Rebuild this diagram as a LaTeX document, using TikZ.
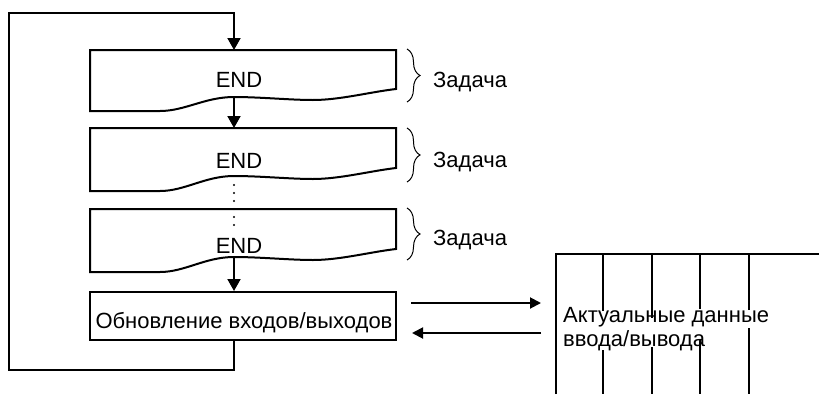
\documentclass[tikz,border=0pt]{standalone}
\usepackage{fontspec}
\setmainfont{Liberation Sans}
\usetikzlibrary{arrows.meta,decorations.pathreplacing}
\begin{document}
\begin{tikzpicture}[x=1pt,y=-1pt,
  box/.style={line width=2pt, line join=miter},
  lbl/.style={font=\fontsize{22}{26}\selectfont, inner sep=0pt},
  conn/.style={line width=1.9pt},
  arr/.style={conn,-{Triangle[length=12pt,width=13pt]}},
  harr/.style={conn,-{Triangle[length=11pt,width=11pt]}},
  brc/.style={line width=1pt, decorate, decoration={brace,amplitude=13pt}},
  gridln/.style={line width=1.9pt},
  dots/.style={line width=2.2pt, line cap=round, dash pattern=on 0pt off 8pt}
]
\useasboundingbox (0,0) rectangle (819,394);

% task box 1
\draw[box] (90,111) -- (90,50) -- (396,50) -- (396,89)
  .. controls (370,92) and (340,100) .. (313,100)
  .. controls (290,100) and (260,97) .. (234,97)
  .. controls (205,97) and (185,111) .. (160,111) -- cycle;
\coordinate (t1) at (234,50);
\coordinate (w1) at (234,97);
\node[lbl, anchor=base] (e1) at (239,87) {END};

% task box 2
\draw[box] (90,191) -- (90,128) -- (396,128) -- (396,168)
  .. controls (370,171) and (340,179) .. (313,179)
  .. controls (290,179) and (260,176) .. (234,176)
  .. controls (205,176) and (185,191) .. (160,191) -- cycle;
\coordinate (t2) at (234,128);
\coordinate (w2) at (234,176);
\node[lbl, anchor=base] (e2) at (239,168) {END};

% task box 3
\draw[box] (90,272) -- (90,209) -- (396,209) -- (396,249)
  .. controls (370,252) and (340,260) .. (313,260)
  .. controls (290,260) and (260,257) .. (234,257)
  .. controls (205,257) and (185,272) .. (160,272) -- cycle;
\coordinate (t3) at (234,209);
\coordinate (w3) at (234,257);
\node[lbl, anchor=base] (e3) at (239,253) {END};

% I/O update box
\node[box, draw, minimum width=306pt, minimum height=48pt, inner sep=0pt] (b4) at (243,316) {};
\node[lbl, anchor=base] (u4) at (244,328) {Обновление входов/выходов};

% connectors
\draw[arr] (w1) -- (t2);
\coordinate (d1) at (234,185);
\coordinate (d2) at (234,226);
\draw[dots] (d1) -- (d2);
\draw[arr] (w3) -- (b4.north -| w3);
\coordinate (lb) at (9,370);
\coordinate (lt) at (9,13);
\draw[arr] (b4.south -| w3) |- (lb) -- (lt) -| (t1);

% braces
\draw[brc] (407,49) -- (407,102);
\draw[brc] (407,128) -- (407,182);
\draw[brc] (407,208) -- (407,260);
\node[lbl, anchor=base west] (z1) at (433,87) {Задача};
\node[lbl, anchor=base west] (z2) at (433,167) {Задача};
\node[lbl, anchor=base west] (z3) at (433,245) {Задача};

% exchange arrows
\coordinate (ra) at (411,303);
\coordinate (rb) at (541,303);
\coordinate (lc) at (541,333);
\coordinate (la) at (412,333);
\draw[harr] (ra) -- (rb);
\draw[harr] (lc) -- (la);

% I/O data table
\draw[gridln] (556,394) -- (556,254) -- (819,254);
\draw[gridln] (603,254) -- (603,311) (603,350) -- (603,394);
\draw[gridln] (652,254) -- (652,318) (652,347) -- (652,394);
\draw[gridln] (700,254) -- (700,309) (700,340) -- (700,394);
\draw[gridln] (749,254) -- (749,310) (749,328) -- (749,394);
\node[lbl, anchor=base west] (d1t) at (563,322) {Актуальные данные};
\node[lbl, anchor=base west] (d2t) at (563,346) {ввода/вывода};
\end{tikzpicture}
\end{document}
